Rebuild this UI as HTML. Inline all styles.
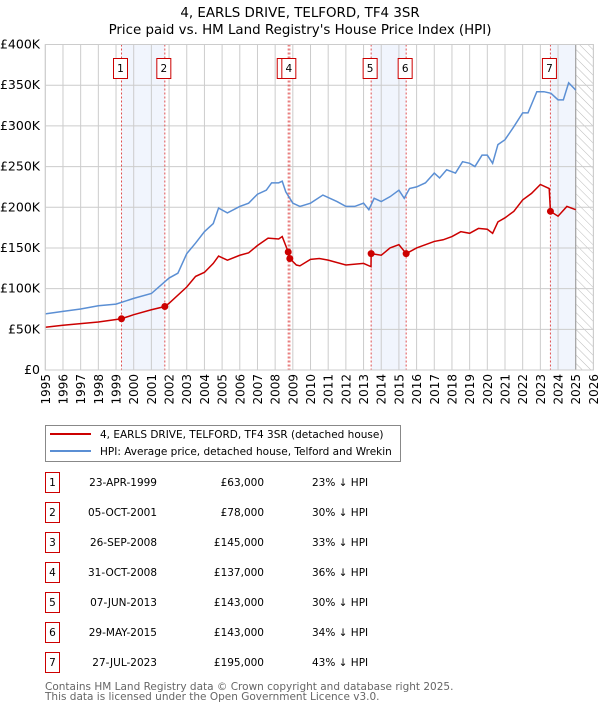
<!DOCTYPE html>
<html><head><meta charset="utf-8">
<style>
body{margin:0;background:#fff;font-family:"DejaVu Sans","Liberation Sans",sans-serif;}
svg{display:block}
</style></head>
<body>
<svg id="c" width="600" height="710" xmlns="http://www.w3.org/2000/svg">
<text x="300" y="17" text-anchor="middle" font-size="13.4">4, EARLS DRIVE, TELFORD, TF4 3SR</text>
<text x="300" y="34" text-anchor="middle" font-size="13.4">Price paid vs. HM Land Registry's House Price Index (HPI)</text>
<defs><pattern id="hatch" width="6" height="6" patternUnits="userSpaceOnUse" patternTransform="rotate(-45)"><line x1="0" y1="0" x2="0" y2="6" stroke="#bbb" stroke-width="1"/></pattern></defs>
<g id="plot"></g>
<g id="legend">
<rect x="45.5" y="425.5" width="355" height="36" fill="#fff" stroke="#888"/>
<line x1="50" y1="434" x2="91" y2="434" stroke="#cc0000" stroke-width="2"/>
<text x="100" y="438" font-size="10.5">4, EARLS DRIVE, TELFORD, TF4 3SR (detached house)</text>
<line x1="50" y1="451" x2="91" y2="451" stroke="#5b8fd4" stroke-width="2"/>
<text x="100" y="455" font-size="10.5">HPI: Average price, detached house, Telford and Wrekin</text>
</g>
<g id="table"></g>
<text x="45" y="690" font-size="10.5" fill="#666">Contains HM Land Registry data © Crown copyright and database right 2025.</text>
<text x="45" y="700" font-size="10.5" fill="#666">This data is licensed under the Open Government Licence v3.0.</text>
</svg>
<script>
const hpiYears=[1995,1996,1997,1998,1999,2000,2001,2002,2002.5,2003,2003.5,2004,2004.5,2004.8,2005.3,2006,2006.5,2007,2007.5,2007.8,2008.2,2008.4,2008.6,2009,2009.4,2010,2010.7,2011.5,2012,2012.5,2013,2013.3,2013.6,2014,2014.5,2015,2015.3,2015.6,2016,2016.5,2017,2017.3,2017.7,2018.2,2018.6,2019,2019.3,2019.7,2020,2020.3,2020.6,2021,2021.5,2022,2022.3,2022.8,2023.2,2023.6,2024,2024.3,2024.6,2025];
const hpiValues=[69,72,75,79,81,88,94,113,119,143,156,170,180,199,193,201,205,216,221,230,230,232,219,205,201,205,215,207,201,201,205,197,211,207,213,221,211,223,225,230,242,236,246,242,256,254,250,264,264,254,277,283,299,316,316,342,342,340,332,332,353,344];
const priceYears=[1995,1996,1997,1998,1999.31,2000,2001,2001.76,2002,2003,2003.5,2004,2004.5,2004.8,2005.3,2006,2006.5,2007,2007.6,2008.2,2008.4,2008.74,2008.83,2009.2,2009.4,2010,2010.5,2011,2012,2013,2013.42,2013.43,2014,2014.5,2015,2015.41,2016,2017,2017.5,2018,2018.5,2019,2019.5,2020,2020.3,2020.6,2021,2021.5,2022,2022.5,2023,2023.5,2023.57,2024,2024.5,2025];
const priceValues=[52.5,55,57,59,63,68,74,78,82,102,115,120,131,140,135,141,144,153,162,161,164,145,137,129,128,136,137,135,129,131,127,143,141,150,154,143,150,158,160,164,170,168,174,173,168,182,187,195,209,217,228,223,195,189,201,197];
const saleLabels=["1","2","3","4","5","6","7"];
const saleYears=[1999.31,2001.76,2008.74,2008.83,2013.43,2015.41,2023.57];
const saleValues=[63,78,145,137,143,143,195];
const saleDates=["23-APR-1999","05-OCT-2001","26-SEP-2008","31-OCT-2008","07-JUN-2013","29-MAY-2015","27-JUL-2023"];
const salePrices=["£63,000","£78,000","£145,000","£137,000","£143,000","£143,000","£195,000"];
const saleHpi=["23% ↓ HPI","30% ↓ HPI","33% ↓ HPI","36% ↓ HPI","30% ↓ HPI","34% ↓ HPI","43% ↓ HPI"];
const yTicks=[0,50,100,150,200,250,300,350,400];
const yTickLabels=["£0","£50K","£100K","£150K","£200K","£250K","£300K","£350K","£400K"];
const xTicks=[1995,1996,1997,1998,1999,2000,2001,2002,2003,2004,2005,2006,2007,2008,2009,2010,2011,2012,2013,2014,2015,2016,2017,2018,2019,2020,2021,2022,2023,2024,2025,2026];

const X0=45.3,X1=593.4,Y0=370,Y1=44.5;
const xs=y=>X0+(y-1995)/(2026-1995)*(X1-X0);
const ys=v=>Y0-v/400*(Y0-Y1);
const NS="http://www.w3.org/2000/svg";
function mk(parent,tag,attrs,txt){const e=document.createElementNS(NS,tag);for(const k in attrs)e.setAttribute(k,attrs[k]);if(txt!==undefined)e.textContent=txt;parent.appendChild(e);return e;}
const plot=document.getElementById('plot');
[[0,1],[4,5],[6,null]].forEach((p,i)=>{
  const a=xs(saleYears[p[0]]),b=p[1]===null?xs(2025):xs(saleYears[p[1]]);
  const r=mk(plot,'rect',{x:a,y:Y1,width:b-a,height:Y0-Y1,fill:'#eef3fc',opacity:0.8});
  
  
});
const h=mk(plot,'rect',{x:xs(2025),y:Y1,width:X1-xs(2025),height:Y0-Y1,fill:'url(#hatch)'});


xTicks.forEach((t,i)=>{
  const l=mk(plot,'line',{x1:xs(t),x2:xs(t),y1:Y1,y2:Y0,stroke:'#ccc','stroke-width':1});
  
  
  const x=xs(t);
  const tx=mk(plot,'text',{x:0,y:0,'font-size':12,'text-anchor':'end',transform:`translate(${x+4.5},374) rotate(-90)`},String(t));
  
  
});
yTicks.forEach((t,i)=>{
  const l=mk(plot,'line',{x1:X0,x2:X1,y1:ys(t),y2:ys(t),stroke:'#ccc','stroke-width':1});
  
  
  const tx=mk(plot,'text',{x:40,y:ys(t)+4,'font-size':12.5,'text-anchor':'end'},yTickLabels[i]);
  
  
});
const now=mk(plot,'line',{x1:xs(2025),x2:xs(2025),y1:Y1,y2:Y0,stroke:'#999','stroke-width':1});


saleYears.forEach(y=>{
  const l=mk(plot,'line',{x1:xs(y),x2:xs(y),y1:Y1,y2:Y0,stroke:'#e05050','stroke-width':1,'stroke-dasharray':'2,2'});
  
  
});
const hp=mk(plot,'polyline',{points:hpiYears.map((y,i)=>xs(y)+','+ys(hpiValues[i])).join(' '),fill:'none',stroke:'#5b8fd4','stroke-width':1.5});


const pp=mk(plot,'polyline',{points:priceYears.map((y,i)=>xs(y)+','+ys(priceValues[i])).join(' '),fill:'none',stroke:'#cc0000','stroke-width':1.5});


saleYears.forEach((y,i)=>{
  const c=mk(plot,'circle',{cx:xs(y),cy:ys(saleValues[i]),r:3.5,fill:'#cc0000'});
  
  
  const bx=xs(y)-(i===2?3:0)-1;
  const g=mk(plot,'g',{});
  
  
  mk(g,'rect',{x:bx-7,y:58.5,width:14,height:20,fill:'#fff',stroke:'#cc0000'});
  mk(g,'text',{x:bx,y:72,'font-size':10.5,'text-anchor':'middle'},saleLabels[i]);
});
mk(plot,'rect',{x:X0,y:Y1,width:X1-X0,height:Y0-Y1,fill:'none',stroke:'#ccc'});
const tb=document.getElementById('table');
saleLabels.forEach((s,i)=>{
  const cy=483+i*30;
  const g=mk(tb,'g',{});
  
  
  mk(g,'rect',{x:45.5,y:cy-10.5,width:14,height:20,fill:'#fff',stroke:'#cc0000'});
  mk(g,'text',{x:52.5,y:cy+3,'font-size':10.5,'text-anchor':'middle'},s);
  mk(g,'text',{x:157,y:cy+3,'font-size':10.5,'text-anchor':'end'},saleDates[i]);
  mk(g,'text',{x:264,y:cy+3,'font-size':10.5,'text-anchor':'end'},salePrices[i]);
  mk(g,'text',{x:312,y:cy+3,'font-size':10.5},saleHpi[i]);
});
</script>
</body></html>
